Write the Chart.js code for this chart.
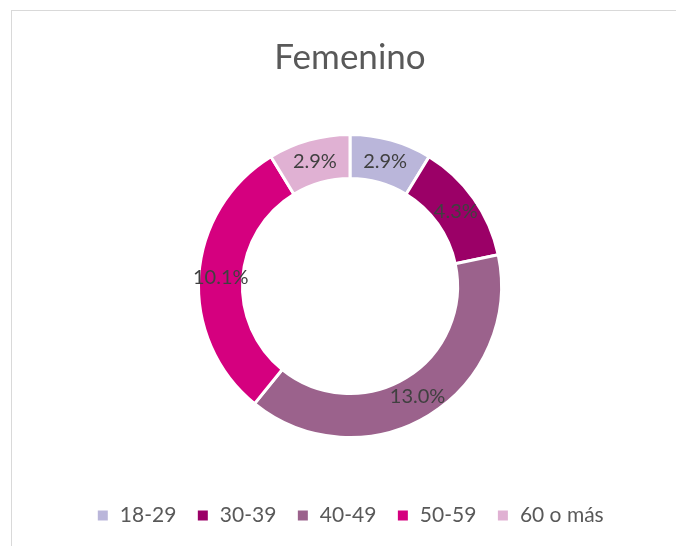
<!DOCTYPE html>
<html>
<head>
<meta charset="utf-8">
<script src="https://cdn.jsdelivr.net/npm/chart.js@4"></script>
<style>
  html, body { margin: 0; padding: 0; background: #fff; overflow: hidden; }
  #frame { position: absolute; left: 11px; top: 10px; width: 700px; height: 600px; border: 1px solid #d9d9d9; }
  #wrap { position: absolute; left: 12px; top: 0; width: 676px; height: 546px; }
</style>
</head>
<body>
<div id="frame"></div>
<div id="wrap"><canvas id="chart1"></canvas></div>
<script>
// chart data
const labels = ['18-29', '30-39', '40-49', '50-59', '60 o más'];
const values = [2.9, 4.3, 13.0, 10.1, 2.9];
const colors = ['#BAB6DA', '#9B0067', '#9B628C', '#D5007F', '#E0B1D3'];

// draws the % labels in the middle of each ring slice
const sliceLabels = {
  id: 'sliceLabels',
  afterDatasetsDraw(chart) {
    const ctx = chart.ctx;
    const meta = chart.getDatasetMeta(0);
    ctx.save();
    ctx.font = '20px Lato';
    ctx.fillStyle = '#404040';
    ctx.textAlign = 'center';
    ctx.textBaseline = 'middle';
    meta.data.forEach((arc, i) => {
      const pos = arc.tooltipPosition();
      ctx.fillText(values[i].toFixed(1) + '%', pos.x, pos.y);
    });
    ctx.restore();
  }
};

var ctx = document.getElementById('chart1').getContext('2d');
var myChart = new Chart(ctx, {
  type: 'doughnut',
  data: {
    labels: labels,
    datasets: [{
      data: values,
      backgroundColor: colors,
      borderColor: '#ffffff',
      borderWidth: 3,
      radius: 151.5,
      cutout: '71%',
    }]
  },
  options: {
    responsive: true,
    maintainAspectRatio: false,
    animation: false,
    layout: { padding: { bottom: 10 } },
    plugins: {
      title: {
        display: true,
        text: 'Femenino',
        color: '#595959',
        font: { family: 'Lato', size: 35, weight: 'normal' },
        padding: { top: 37, bottom: 8 },
      },
      legend: {
        position: 'bottom',
        labels: {
          color: '#595959',
          font: { family: 'Lato', size: 21 },
          boxWidth: 13,
          boxHeight: 13,
          padding: 20,
        }
      },
      tooltip: { enabled: false },
    }
  },
  plugins: [sliceLabels]
});
</script>
</body>
</html>
